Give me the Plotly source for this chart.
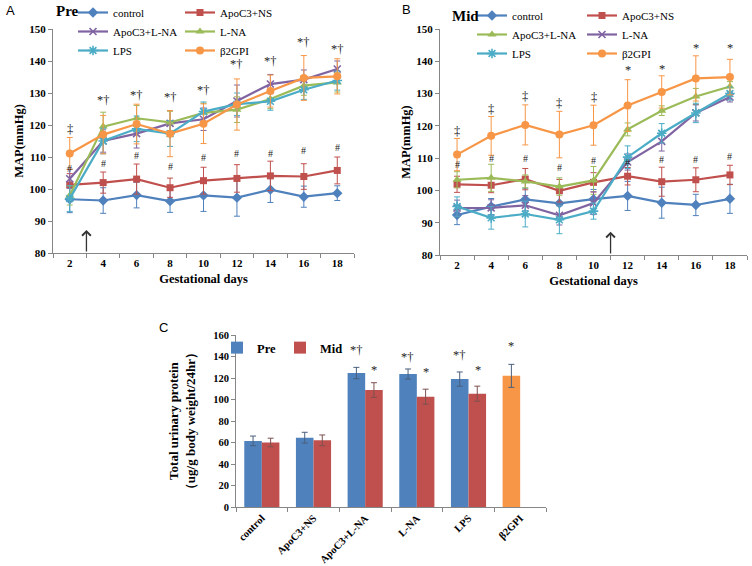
import plotly.graph_objects as go

# ---------------- data ----------------
days = [2, 4, 6, 8, 10, 12, 14, 16, 18]
day_boundaries = [1, 3, 5, 7, 9, 11, 13, 15, 17, 19]

# Panel A (Pre)
a_control = [96.8, 96.4, 98.1, 96.2, 98.0, 97.3, 99.8, 97.6, 98.7]
a_control_err = [4.2, 4.0, 4.0, 3.5, 5.0, 5.8, 4.0, 3.3, 2.3]
a_ns = [101.3, 102.0, 103.1, 100.4, 102.6, 103.3, 104.1, 103.9, 105.8]
a_ns_err = [3.5, 3.3, 4.7, 3.0, 4.2, 4.3, 4.6, 4.0, 4.2]
a_apoc3_lna = [103.2, 115.0, 117.3, 120.5, 121.8, 127.5, 132.8, 134.2, 137.5]
a_apoc3_lna_err = [3.0, 3.5, 4.5, 4.0, 3.5, 5.0, 3.0, 3.0, 2.5]
a_lna = [98.0, 119.5, 122.1, 120.8, 123.8, 124.8, 128.1, 132.3, 133.3]
a_lna_err = [3.0, 4.5, 4.0, 3.5, 3.0, 4.0, 3.0, 3.0, 3.0]
a_lps = [97.0, 115.0, 118.8, 117.3, 124.2, 126.5, 127.4, 131.0, 133.9]
a_lps_err = [4.0, 4.0, 4.0, 4.0, 3.0, 3.5, 2.8, 3.0, 3.0]
a_b2gpi = [111.1, 117.0, 120.3, 117.3, 120.4, 126.4, 130.6, 134.7, 135.2]
a_b2gpi_err = [5.0, 6.0, 6.2, 7.2, 6.2, 8.0, 5.0, 7.0, 5.5]

a_sig_days = [2, 4, 6, 8, 10, 12, 14, 16, 18]
a_sig_y = [118.9, 127.8, 129.5, 128.9, 131.0, 139.0, 140.0, 145.8, 143.9]
a_sig_text = ["‡", "*†", "*†", "*†", "*†", "*†", "*†", "*†", "*†"]
a_hash_y = [106.5, 108.0, 110.6, 106.9, 110.0, 111.0, 111.0, 111.9, 113.1]
a_arrow_day = 3

# Panel B (Mid)
b_control = [92.4, 95.0, 97.2, 96.0, 97.3, 98.3, 96.2, 95.5, 97.4]
b_control_err = [3.0, 2.5, 3.5, 3.5, 3.0, 4.5, 4.8, 3.3, 4.5]
b_ns = [101.9, 101.6, 103.5, 99.9, 102.5, 104.4, 102.7, 103.3, 104.8]
b_ns_err = [2.5, 2.3, 3.3, 3.5, 3.0, 2.7, 4.5, 3.7, 3.0]
b_apoc3_lna = [103.3, 103.9, 102.8, 101.2, 103.1, 118.9, 124.7, 129.1, 132.2]
b_apoc3_lna_err = [2.5, 4.2, 2.0, 2.7, 4.3, 2.0, 1.5, 2.5, 1.5]
b_lna = [94.5, 94.6, 95.4, 92.3, 96.1, 108.8, 115.2, 124.0, 128.9]
b_lna_err = [2.5, 2.5, 3.0, 3.0, 3.5, 2.5, 3.0, 2.5, 1.5]
b_lps = [95.0, 91.5, 92.7, 90.9, 93.6, 110.3, 117.7, 124.0, 130.0]
b_lps_err = [3.0, 3.5, 4.0, 4.3, 2.5, 3.5, 3.0, 3.0, 2.0]
b_b2gpi = [111.1, 116.9, 120.3, 117.3, 120.2, 126.3, 130.5, 134.7, 135.1]
b_b2gpi_err = [5.0, 6.0, 6.2, 7.2, 6.2, 8.0, 5.0, 7.0, 5.5]

b_sig_days = [2, 4, 6, 8, 10, 12, 14, 16, 18]
b_sig_y = [118.4, 125.2, 129.2, 127.0, 128.9, 137.3, 137.6, 144.0, 144.0]
b_sig_text = ["‡", "‡", "‡", "‡", "‡", "*", "*", "*", "*"]
b_hash_y = [107.9, 110.0, 110.0, 107.0, 109.4, 108.5, 109.7, 109.7, 110.6]
b_arrow_day = 11

# Panel C (urinary protein)
c_groups = ["control", "ApoC3+NS", "ApoC3+L-NA", "L-NA", "LPS", "β2GPI"]
c_pre = [61.5, 64.5, 124.6, 123.7, 119.0, 122.0]
c_pre_err = [4.5, 5.0, 5.3, 4.7, 6.6, 10.7]
c_mid = [60.0, 62.0, 108.8, 102.6, 105.4, None]
c_mid_err = [4.0, 5.0, 6.8, 7.0, 7.0, None]
c_pre_sig = ["", "", "*†", "*†", "*†", "*"]
c_pre_sig_y = [None, None, 146.0, 139.5, 141.4, 149.8]
c_mid_sig = ["", "", "*", "*", "*", ""]
c_mid_sig_y = [None, None, 127.4, 126.0, 127.4, None]

# ---------------- styles ----------------
BLUE = "#4F81BD"
RED = "#C0504D"
GREEN = "#9BBB59"
PURPLE = "#8064A2"
CYAN = "#4BACC6"
ORANGE = "#F79646"
AXIS = "#868686"
SERIF = "Liberation Serif"
SANS = "Liberation Sans"
SIGCOLOR = "#222222"

fig = go.Figure()


def add_series(name, y, err, color, symbol, size, xa, ya, legend, open_sym=False):
    marker = dict(symbol=symbol, size=size, color=color)
    if open_sym:
        marker["line"] = dict(color=color, width=1.6)
    fig.add_trace(go.Scatter(
        x=days, y=y, name=name, mode="lines+markers",
        line=dict(color=color, width=2.2),
        marker=marker,
        error_y=dict(type="data", array=err, visible=True, color=color,
                     thickness=1, width=3),
        xaxis=xa, yaxis=ya, legend=legend,
    ))


# Panel A
add_series("control", a_control, a_control_err, BLUE, "diamond", 8, "x", "y", "legend")
add_series("ApoC3+NS", a_ns, a_ns_err, RED, "square", 7, "x", "y", "legend2")
add_series("ApoC3+L-NA", a_apoc3_lna, a_apoc3_lna_err, PURPLE, "x-thin-open", 7, "x", "y", "legend", True)
add_series("L-NA", a_lna, a_lna_err, GREEN, "triangle-up", 8, "x", "y", "legend2")
add_series("LPS", a_lps, a_lps_err, CYAN, "asterisk-open", 8, "x", "y", "legend", True)
add_series("β2GPI", a_b2gpi, a_b2gpi_err, ORANGE, "circle", 8, "x", "y", "legend2")

# Panel B
add_series("control", b_control, b_control_err, BLUE, "diamond", 8, "x2", "y2", "legend3")
add_series("ApoC3+NS", b_ns, b_ns_err, RED, "square", 7, "x2", "y2", "legend4")
add_series("ApoC3+L-NA", b_apoc3_lna, b_apoc3_lna_err, GREEN, "triangle-up", 8, "x2", "y2", "legend3")
add_series("L-NA", b_lna, b_lna_err, PURPLE, "x-thin-open", 7, "x2", "y2", "legend4", True)
add_series("LPS", b_lps, b_lps_err, CYAN, "asterisk-open", 8, "x2", "y2", "legend3", True)
add_series("β2GPI", b_b2gpi, b_b2gpi_err, ORANGE, "circle", 8, "x2", "y2", "legend4")

# Panel C
pre_colors = [BLUE] * (len(c_groups) - 1) + [ORANGE]
fig.add_trace(go.Bar(
    x=c_groups, y=c_pre, name="Pre", marker=dict(color=pre_colors, line=dict(width=0)),
    error_y=dict(type="data", array=c_pre_err, visible=True, color="#4a5f7d",
                 thickness=1, width=3),
    xaxis="x3", yaxis="y3", legend="legend5",
))
fig.add_trace(go.Bar(
    x=c_groups, y=c_mid, name="Mid", marker=dict(color=RED, line=dict(width=0)),
    error_y=dict(type="data", array=c_mid_err, visible=True, color="#7d5150",
                 thickness=1, width=3),
    xaxis="x3", yaxis="y3", legend="legend5",
))

annotations = []


def sig_annots(xs, ys, texts, xref, yref, size=12):
    for xv, yv, t in zip(xs, ys, texts):
        if t and yv is not None:
            annotations.append(dict(x=xv, y=yv, text=t, xref=xref, yref=yref,
                                    showarrow=False, xanchor="center", yanchor="middle",
                                    font=dict(family=SERIF, size=size, color=SIGCOLOR)))


sig_annots(a_sig_days, a_sig_y, a_sig_text, "x", "y", 12.5)
sig_annots(days, a_hash_y, ["#"] * len(days), "x", "y", 10)
sig_annots(b_sig_days, b_sig_y, b_sig_text, "x2", "y2", 12.5)
sig_annots(days, b_hash_y, ["#"] * len(days), "x2", "y2", 10)

for g, yv, t in zip(c_groups, c_pre_sig_y, c_pre_sig):
    if t:
        annotations.append(dict(x=g, y=yv, text=t, xref="x3", yref="y3", xshift=-9,
                                showarrow=False, xanchor="center", yanchor="middle",
                                font=dict(family=SERIF, size=12.5, color=SIGCOLOR)))
for g, yv, t in zip(c_groups, c_mid_sig_y, c_mid_sig):
    if t:
        annotations.append(dict(x=g, y=yv, text=t, xref="x3", yref="y3", xshift=9,
                                showarrow=False, xanchor="center", yanchor="middle",
                                font=dict(family=SERIF, size=12.5, color=SIGCOLOR)))

# arrows marking injection day
for xa, ya, d in [("x", "y", a_arrow_day), ("x2", "y2", b_arrow_day)]:
    annotations.append(dict(x=d, y=87.2, ax=d, ay=80, xref=xa, yref=ya,
                            axref=xa, ayref=ya, text="", showarrow=True,
                            arrowhead=4, arrowsize=1.3, arrowwidth=1.3,
                            arrowcolor="#333333"))


# panel letters and titles
def paper_text(px, py, text, font, xanchor="center"):
    return dict(x=px / 752, y=1 - py / 566, xref="paper", yref="paper", text=text,
                xanchor=xanchor, yanchor="middle", showarrow=False, font=font)


letter_font = dict(family=SANS, size=13, color="black")
title_font = dict(family=SERIF, size=15, color="black", weight="bold")
annotations += [
    paper_text(10, 10, "A", letter_font),
    paper_text(406, 9, "B", letter_font),
    paper_text(163, 327, "C", letter_font),
    paper_text(54, 11, "Pre", title_font, "left"),
    paper_text(450, 16, "Mid", title_font, "left"),
]

tickfont = dict(family=SERIF, size=11, color="black", weight="bold")
titlefont = dict(family=SERIF, size=12.5, color="black", weight="bold")


def day_xaxis(domain, anchor):
    return dict(domain=domain, anchor=anchor, range=[1, 19], tickmode="array",
                tickvals=days, ticktext=[str(d) for d in days], ticks="",
                showgrid=False, zeroline=False, showline=True, linecolor=AXIS,
                linewidth=1, tickfont=tickfont, automargin=False,
                minor=dict(tickmode="array", tickvals=day_boundaries,
                           ticks="outside", ticklen=4, tickcolor=AXIS, showgrid=False),
                title=dict(text="Gestational days", font=titlefont, standoff=6))


def map_yaxis(domain, anchor):
    return dict(domain=domain, anchor=anchor, range=[80, 150], dtick=10,
                ticks="outside", ticklen=4, tickcolor=AXIS, showgrid=False,
                zeroline=False, showline=True, linecolor=AXIS, linewidth=1,
                tickfont=tickfont, automargin=False,
                title=dict(text="MAP(mmHg)", font=titlefont, standoff=2))


legend_common = dict(bgcolor="rgba(0,0,0,0)", xanchor="left", yanchor="top",
                     font=dict(family=SERIF, size=11, color="black"),
                     tracegroupgap=0, borderwidth=0)

fig.update_layout(
    width=752, height=566,
    margin=dict(l=0, r=0, t=0, b=0, pad=0, autoexpand=False),
    paper_bgcolor="white", plot_bgcolor="white",
    showlegend=True,
    barmode="group", bargap=0.32, bargroupgap=0,
    xaxis=day_xaxis([53 / 752, 354 / 752], "y"),
    yaxis=map_yaxis([1 - 253 / 566, 1 - 29 / 566], "x"),
    xaxis2=day_xaxis([440 / 752, 747 / 752], "y2"),
    yaxis2=map_yaxis([1 - 255 / 566, 1 - 29 / 566], "x2"),
    xaxis3=dict(domain=[236 / 752, 546 / 752], anchor="y3", type="category",
                tickangle=-45, ticks="outside", ticklen=4, tickcolor=AXIS,
                tickson="boundaries", showgrid=False, showline=True,
                linecolor=AXIS, linewidth=1, automargin=False,
                tickfont=dict(family=SERIF, size=10.5, color="black", weight="bold")),
    yaxis3=dict(domain=[1 - 507 / 566, 1 - 335 / 566], anchor="x3",
                range=[0, 160], dtick=20, ticks="outside", ticklen=4,
                tickcolor=AXIS, showgrid=False, zeroline=False, showline=True,
                linecolor=AXIS, linewidth=1, automargin=False,
                tickfont=dict(family=SERIF, size=10.5, color="black", weight="bold"),
                title=dict(text="Total urinary protein<br>（ug/g body weight/24hr）",
                           font=dict(family=SERIF, size=13, color="black", weight="bold"),
                           standoff=14)),
    legend=dict(x=73 / 752, y=1 + 2 / 566, **legend_common),
    legend2=dict(x=180 / 752, y=1 + 2 / 566, **legend_common),
    legend3=dict(x=472 / 752, y=1 - 1 / 566, **legend_common),
    legend4=dict(x=582 / 752, y=1 - 1 / 566, **legend_common),
    legend5=dict(x=217 / 752, y=1 - 333 / 566, orientation="h", bgcolor="rgba(0,0,0,0)",
                 xanchor="left", yanchor="top", itemwidth=30, entrywidth=18,
                 font=dict(family=SERIF, size=12.5, color="black", weight="bold")),
    annotations=annotations,
)

fig.write_html("out.html", config={"displayModeBar": False},
               post_script="document.body.style.margin='0px';")
